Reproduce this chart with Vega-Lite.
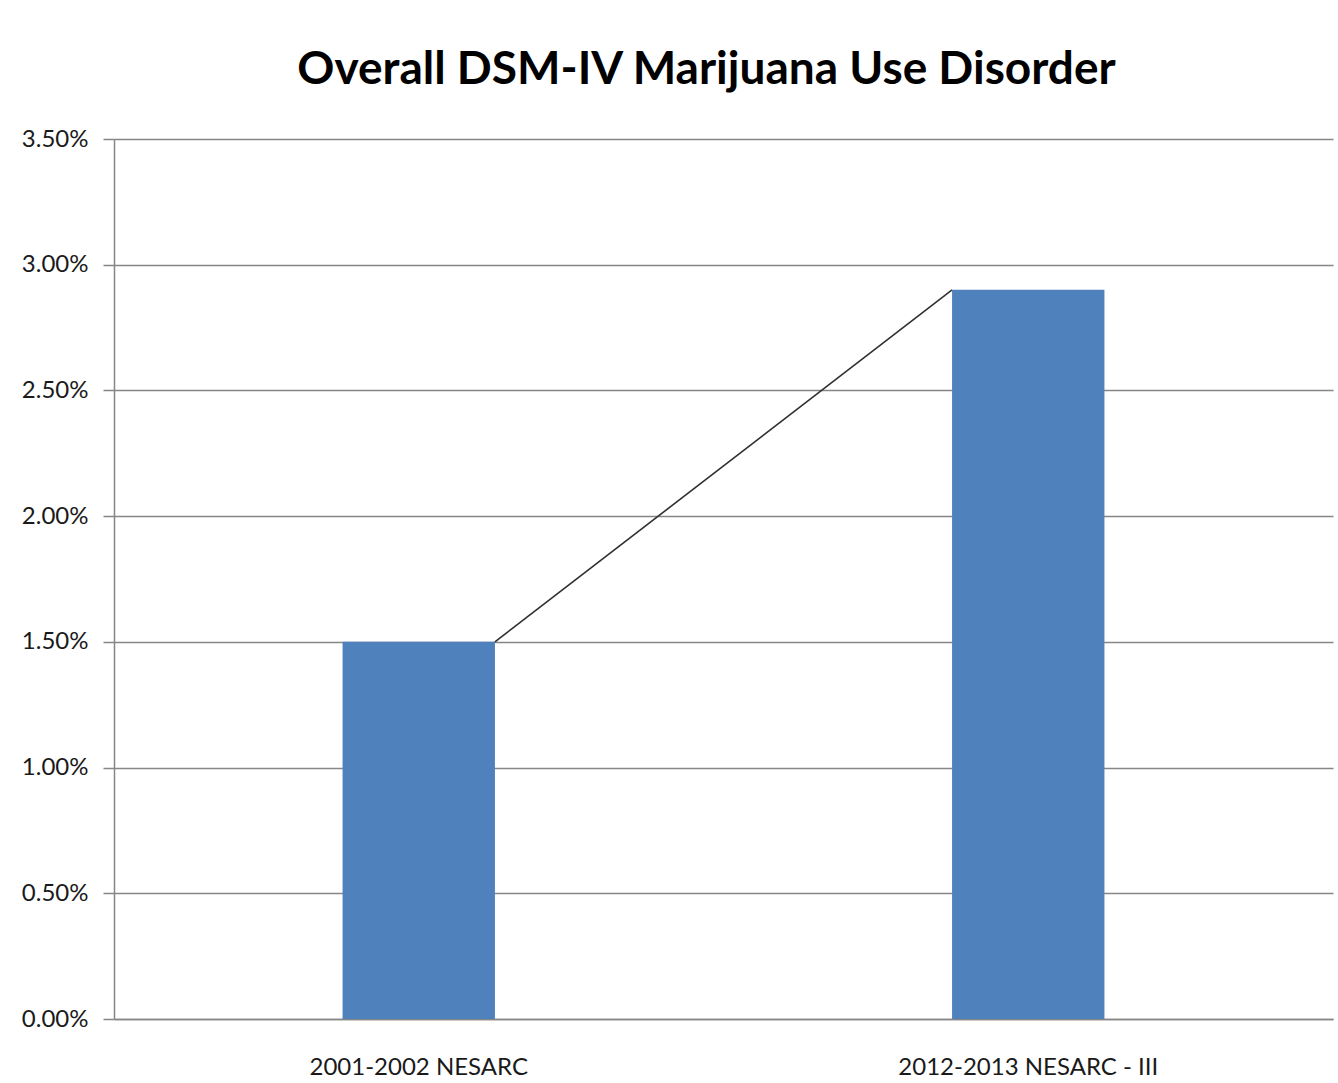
{
  "$schema": "https://vega.github.io/schema/vega-lite/v6.json",
  "autosize": {"type": "none"},
  "width": 1219,
  "height": 880,
  "padding": {"left": 114, "top": 139, "right": 5, "bottom": 64},
  "background": "#ffffff",
  "title": {
    "text": "Overall DSM-IV Marijuana Use Disorder",
    "font": "Lato",
    "fontSize": 46,
    "fontWeight": "bold",
    "color": "#000000",
    "anchor": "middle",
    "frame": "group",
    "baseline": "alphabetic",
    "dx": -17,
    "dy": 46,
    "offset": 43
  },
  "config": {
    "view": {"stroke": null},
    "axis": {
      "labelFont": "Lato",
      "labelColor": "#1a1a1a",
      "domainColor": "#868686",
      "tickColor": "#868686",
      "gridColor": "#868686",
      "domainWidth": 1.5,
      "tickWidth": 1.5,
      "gridWidth": 1.5
    }
  },
  "layer": [
    {
      "data": {
        "values": [
          {"survey": "2001-2002 NESARC", "rate": 0.015},
          {"survey": "2012-2013 NESARC - III", "rate": 0.029}
        ]
      },
      "mark": {"type": "bar", "color": "#4F81BD"},
      "encoding": {
        "x": {
          "field": "survey",
          "type": "nominal",
          "sort": null,
          "scale": {"paddingInner": 0.75, "paddingOuter": 0.375},
          "axis": {
            "title": null,
            "labelAngle": 0,
            "labelFontSize": 24,
            "labelLimit": 0,
            "labelPadding": 36,
            "ticks": false,
            "domain": true
          }
        },
        "y": {
          "field": "rate",
          "type": "quantitative",
          "scale": {"domain": [0, 0.035], "nice": false},
          "axis": {
            "title": null,
            "format": ".2%",
            "values": [0, 0.005, 0.01, 0.015, 0.02, 0.025, 0.03, 0.035],
            "labelFontSize": 24,
            "tickSize": 11,
            "labelPadding": 15,
            "grid": true,
            "domain": true
          }
        }
      }
    },
    {
      "data": {
        "values": [
          {"from": "2001-2002 NESARC", "to": "2012-2013 NESARC - III", "start": 0.015, "end": 0.029}
        ]
      },
      "mark": {"type": "rule", "color": "#303030", "strokeWidth": 1.6},
      "encoding": {
        "x": {"field": "from", "type": "nominal", "sort": null, "bandPosition": 1},
        "x2": {"field": "to", "bandPosition": 0},
        "y": {"field": "start", "type": "quantitative"},
        "y2": {"field": "end"}
      }
    }
  ]
}
